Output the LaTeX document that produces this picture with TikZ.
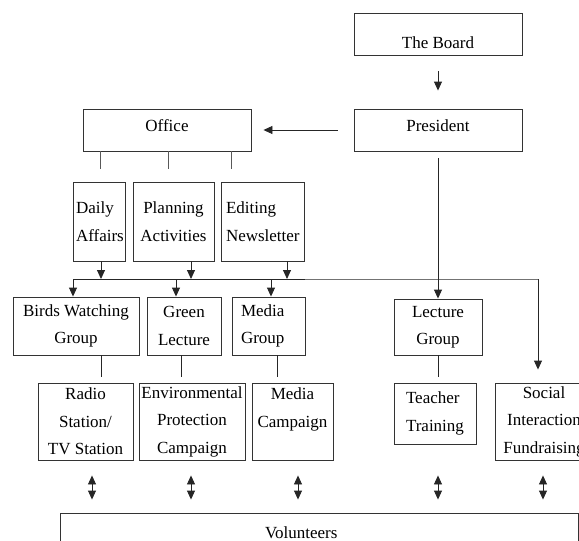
\documentclass[tikz,border=0pt]{standalone}
\usepackage{fontspec}
\setmainfont{Liberation Serif}
\usetikzlibrary{arrows.meta}

\begin{document}
\begin{tikzpicture}[x=1pt,y=-1pt,
  font=\fontsize{17}{27.5}\selectfont,
  line width=0.9pt, color=black!85,
  box/.style={draw=black!80, text=black, inner sep=2pt},
  >={Triangle[width=8pt,length=9pt]}]
\useasboundingbox (0,0) rectangle (579,541);
\clip (0,0) rectangle (579,541);
% top
\node[box, minimum width=168, minimum height=42, text height=29.6pt, text depth=0pt] (board) at (438,34) {The Board};
\node[box, minimum width=168, minimum height=42, text height=12pt, text depth=10pt] (president) at (438,130) {President};
\node[box, minimum width=168, minimum height=42, text height=12pt, text depth=10pt] (office) at (167,130) {Office};
% office units
\node[box, minimum width=52, minimum height=79, text width=46, align=left] (daily) at (99,221.5) {Daily\\Affairs};
\node[box, minimum width=81, minimum height=79, align=center] (planning) at (173.5,221.5) {Planning\\Activities};
\node[box, minimum width=83, minimum height=79, text width=73, align=left] (editing) at (262.5,221.5) {Editing\\Newsletter};
% groups
\node[box, minimum width=126, minimum height=58, align=center] (birds) at (76,326) {Birds Watching\\Group};
\node[box, minimum width=74, minimum height=58, align=center] (green) at (184,326) {Green\\Lecture};
\node[box, minimum width=73, minimum height=58, text width=55, align=left] (mediagroup) at (268.5,326) {Media\\Group};
\node[box, minimum width=88, minimum height=56, align=center] (lecture) at (438,327) {Lecture\\Group};
% activities
\node[box, minimum width=95, minimum height=77, align=center] (radio) at (85.5,421.5) {Radio\\Station/\\TV Station};
\node[box, minimum width=106, minimum height=77, align=center] (env) at (192,421.5) {Environmental\\Protection\\Campaign};
\node[box, minimum width=81, minimum height=77, align=center] (mediacamp) at (292.5,421.5) {Media\\Campaign\\\mbox{}};
\node[box, minimum width=82, minimum height=61, text width=58, align=left] (teacher) at (435,413.5) {Teacher\\Training};
\node[box, minimum width=98, minimum height=77, align=center] (social) at (544,421.5) {Social\\Interaction\\Fundraising};
\node[box, minimum width=518, minimum height=40, text width=108, align=left] (volunteers) at (319,533) {Volunteers};
% connectors
\draw[->, shorten <=16pt, shorten >=18pt] (board) -- (president);
\draw[->, shorten <=16pt, shorten >=12pt] (president) -- (office);
\draw[black!65] ([xshift=18pt]office.south west) -- ++(0,18);
\draw[black!65] ([xshift=86pt]office.south west) -- ++(0,18);
\draw[black!65] ([xshift=149pt]office.south west) -- ++(0,18);
\coordinate (busw) at (73,279);
\coordinate (buse) at (538,279);
\draw[->] ([xshift=2pt]daily.south) -- ([xshift=2pt]daily.south |- busw);
\draw[->] ([xshift=17.5pt]planning.south) -- ([xshift=17.5pt]planning.south |- busw);
\draw[->] ([xshift=24.5pt]editing.south) -- ([xshift=24.5pt]editing.south |- busw);
\draw (busw) -- (305,279);
\draw[black!55] (305,279) -- (buse);
\draw[->, shorten >=13pt] (buse) -- (buse |- social.north);
\draw[->] (busw) -- (busw |- birds.north);
\draw[->] ([xshift=-8pt]green.north |- busw) -- ([xshift=-8pt]green.north);
\draw[->] ([xshift=2.5pt]mediagroup.north |- busw) -- ([xshift=2.5pt]mediagroup.north);
\draw[->, shorten <=7pt] (president) -- (lecture);
\draw ([xshift=25pt]birds.south) -- ++(0,22);
\draw ([xshift=-3pt]green.south) -- ++(0,22);
\draw ([xshift=8.5pt]mediagroup.south) -- ++(0,22);
\draw (lecture.south) -- ++(0,22);
\draw[<->, shorten <=15pt, shorten >=13pt] ([xshift=6.5pt]radio.south) -- ([xshift=6.5pt]radio.south |- volunteers.north);
\draw[<->, shorten <=15pt, shorten >=13pt] ([xshift=-1pt]env.south) -- ([xshift=-1pt]env.south |- volunteers.north);
\draw[<->, shorten <=15pt, shorten >=13pt] ([xshift=5.5pt]mediacamp.south) -- ([xshift=5.5pt]mediacamp.south |- volunteers.north);
\draw[<->, shorten <=31pt, shorten >=13pt] ([xshift=3pt]teacher.south) -- ([xshift=3pt]teacher.south |- volunteers.north);
\draw[<->, shorten <=15pt, shorten >=13pt] ([xshift=-1pt]social.south) -- ([xshift=-1pt]social.south |- volunteers.north);
\end{tikzpicture}
\end{document}
